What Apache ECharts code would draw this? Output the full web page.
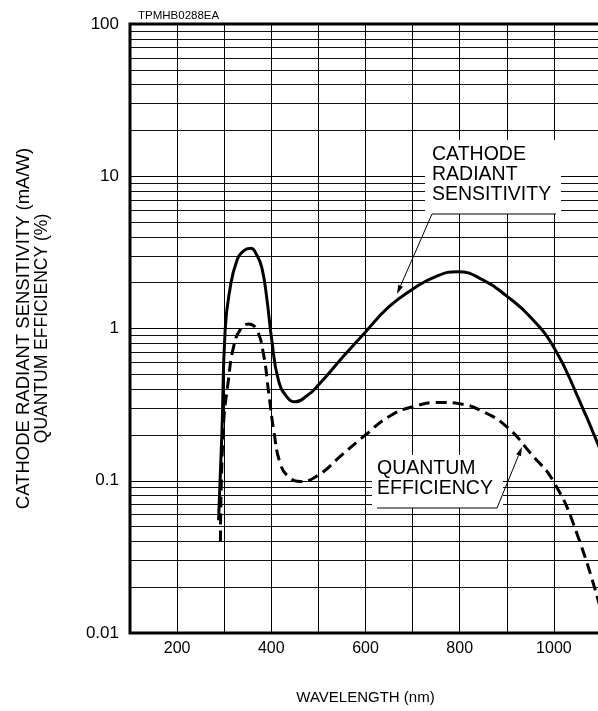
<!DOCTYPE html>
<html><head><meta charset="utf-8">
<script src="https://cdn.jsdelivr.net/npm/echarts/dist/echarts.min.js"></script>
<style>html,body{margin:0;padding:0;background:#fff}#c{width:598px;height:711px}</style>
</head><body><div id="c"></div>
<script>
// ---- data ----
const xLabelTicks = [200, 400, 600, 800, 1000];
const yTickLabels = ['0.01', '0.1', '1', '10', '100'];
const minorMultipliers = [2, 3, 4, 5, 6, 7, 8, 9];
const decades = [0.01, 0.1, 1, 10];

// Cathode radiant sensitivity (mA/W)
const sensWl  = [288, 295, 302, 312, 327, 342, 356, 370, 380, 390, 401, 415, 433, 451, 475, 500, 550, 600, 650, 700, 750, 795, 850, 900, 950, 1000, 1050, 1100];
const sensVal = [0.055, 0.2, 0.98, 1.8, 2.8, 3.25, 3.36, 3.0, 2.5, 1.62, 0.84, 0.46, 0.356, 0.33, 0.36, 0.425, 0.64, 0.95, 1.39, 1.81, 2.2, 2.36, 2.08, 1.63, 1.19, 0.75, 0.36, 0.155];

// Quantum efficiency (%)
const qeWl  = [292, 298, 309, 320, 334, 352, 369, 383, 394, 405, 419, 437, 461, 500, 550, 600, 650, 700, 760, 800, 850, 900, 950, 1000, 1050, 1100];
const qeVal = [0.04, 0.216, 0.46, 0.76, 0.98, 1.07, 0.98, 0.69, 0.39, 0.216, 0.13, 0.106, 0.099, 0.109, 0.148, 0.2, 0.264, 0.306, 0.327, 0.32, 0.284, 0.226, 0.152, 0.098, 0.044, 0.014];

const FONT = 'Liberation Sans, Arial, Helvetica, sans-serif';

const minorLines = [];
decades.forEach(d => minorMultipliers.forEach(k => minorLines.push({ yAxis: Number((k * d).toPrecision(3)) })));

function arrowGraphics(x1, y1, x2, y2) {
  const dx = x2 - x1, dy = y2 - y1, L = Math.hypot(dx, dy);
  const ux = dx / L, uy = dy / L, len = 9, hw = 2.6;
  const bx = x2 - ux * len, by = y2 - uy * len;
  return [
    { type: 'line', z: 101, shape: { x1, y1, x2: bx, y2: by }, style: { stroke: '#000', lineWidth: 1 } },
    { type: 'polygon', z: 101, shape: { points: [[x2, y2], [bx - uy * hw, by + ux * hw], [bx + uy * hw, by - ux * hw]] }, style: { fill: '#000' } }
  ];
}

const chart = echarts.init(document.getElementById('c'), null, { renderer: 'canvas' });
chart.setOption({
  animation: false,
  backgroundColor: '#fff',
  title: { text: 'TPMHB0288EA', left: 133, top: 5, textStyle: { fontSize: 11.5, fontWeight: 'normal', color: '#000', fontFamily: FONT } },
  grid: { left: 130, right: -3, top: 24, bottom: 78, outerBoundsMode: 'none', containLabel: false,
          show: true, borderColor: '#000', borderWidth: 3, z: 10 },
  xAxis: {
    type: 'value', min: 100, max: 1100, interval: 100,
    name: 'WAVELENGTH (nm)', nameLocation: 'middle', nameGap: 57,
    nameTextStyle: { fontSize: 15, color: '#000', fontFamily: FONT },
    axisLine: { show: false }, axisTick: { show: false },
    axisLabel: { margin: 8, fontSize: 16, color: '#000', fontFamily: FONT,
      formatter: v => xLabelTicks.includes(v) ? String(v) : '' },
    splitLine: { show: true, lineStyle: { color: '#000', width: 1 } }
  },
  yAxis: {
    type: 'log', logBase: 10, min: 0.01, max: 100,
    name: '{a|CATHODE RADIANT SENSITIVITY (mA/W)}\n{b|QUANTUM EFFICIENCY (%)}',
    nameLocation: 'middle', nameGap: 78, nameRotate: 90,
    nameTextStyle: { color: '#000', fontFamily: FONT, align: 'center',
      rich: { a: { fontSize: 18.5, lineHeight: 19, fontFamily: FONT, color: '#000' },
              b: { fontSize: 17.5, lineHeight: 19, fontFamily: FONT, color: '#000' } } },
    axisLine: { show: false }, axisTick: { show: false },
    axisLabel: { margin: 11, fontSize: 17, color: '#000', fontFamily: FONT,
      formatter: v => { const e = Math.round(Math.log10(v)); return yTickLabels[e + 2] || ''; } },
    splitLine: { show: true, lineStyle: { color: '#000', width: 1 } }
  },
  series: [
    {
      name: 'grid-minor', type: 'line', data: [], silent: true,
      markLine: { silent: true, symbol: 'none', animation: false, label: { show: false },
        lineStyle: { color: '#111', width: 1, type: 'solid' }, data: minorLines }
    },
    {
      name: 'Cathode radiant sensitivity', type: 'line', smooth: 0.5, symbol: 'none', z: 5,
      lineStyle: { color: '#000', width: 3 },
      data: sensWl.map((w, i) => [w, sensVal[i]])
    },
    {
      name: 'Quantum efficiency', type: 'line', smooth: 0.5, symbol: 'none', z: 5,
      lineStyle: { color: '#000', width: 3, type: [11, 6] },
      data: qeWl.map((w, i) => [w, qeVal[i]])
    }
  ],
  graphic: [
    { type: 'rect', z: 100, shape: { x: 425, y: 140, width: 136, height: 74 }, style: { fill: '#fff' } },
    { type: 'text', z: 101, x: 432, y: 145, style: { text: 'CATHODE\nRADIANT\nSENSITIVITY', font: '19.5px ' + FONT, lineHeight: 20, fill: '#000' } },
    { type: 'line', z: 101, shape: { x1: 432, y1: 214, x2: 556, y2: 214 }, style: { stroke: '#000', lineWidth: 1 } },
    ...arrowGraphics(432, 214, 397, 294),
    { type: 'rect', z: 100, shape: { x: 372, y: 455, width: 131, height: 53 }, style: { fill: '#fff' } },
    { type: 'text', z: 101, x: 377, y: 459, style: { text: 'QUANTUM\nEFFICIENCY', font: '19.5px ' + FONT, lineHeight: 20, fill: '#000' } },
    { type: 'line', z: 101, shape: { x1: 377, y1: 508, x2: 497, y2: 508 }, style: { stroke: '#000', lineWidth: 1 } },
    ...arrowGraphics(497, 508, 522, 447)
  ]
});
</script>
</body></html>
